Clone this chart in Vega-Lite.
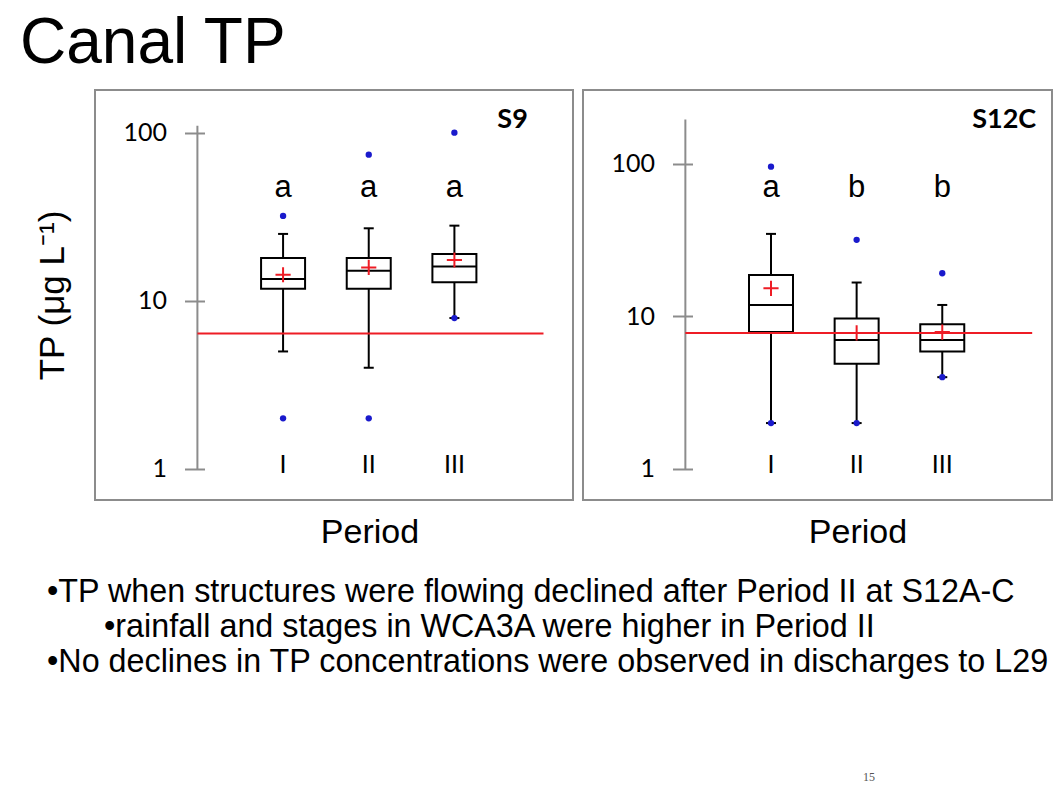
{
  "$schema": "https://vega.github.io/schema/vega-lite/v6.json",
  "background": "white",
  "padding": {"left": 19, "top": 12, "right": 0, "bottom": 0},
  "title": {"text": "Canal TP", "anchor": "start", "frame": "bounds", "fontSize": 64, "fontWeight": "normal", "font": "Liberation Sans", "color": "black", "baseline": "alphabetic", "offset": -38, "dx": -15},
  "datasets": {
    "boxes": [
      {"station": "S9", "idx": 1, "period": "I", "lo": 5.0, "q1": 11.8, "med": 13.5, "q3": 18, "hi": 25, "mean": 14.3, "grp": "a"},
      {"station": "S9", "idx": 2, "period": "II", "lo": 4.0, "q1": 11.8, "med": 15.1, "q3": 18, "hi": 27, "mean": 15.8, "grp": "a"},
      {"station": "S9", "idx": 3, "period": "III", "lo": 7.9, "q1": 12.9, "med": 16, "q3": 19, "hi": 28, "mean": 17.5, "grp": "a"},
      {"station": "S12C", "idx": 1, "period": "I", "lo": 2.0, "q1": 7.9, "med": 11.9, "q3": 18.7, "hi": 34.8, "mean": 15.3, "grp": "a"},
      {"station": "S12C", "idx": 2, "period": "II", "lo": 2.0, "q1": 4.9, "med": 7.0, "q3": 9.7, "hi": 16.7, "mean": 7.8, "grp": "b"},
      {"station": "S12C", "idx": 3, "period": "III", "lo": 4.0, "q1": 5.9, "med": 7.0, "q3": 8.9, "hi": 11.9, "mean": 7.9, "grp": "b"}
    ],
    "outliers": [
      {"station": "S9", "idx": 1, "tp": 32}, {"station": "S9", "idx": 1, "tp": 2.0},
      {"station": "S9", "idx": 2, "tp": 74}, {"station": "S9", "idx": 2, "tp": 2.0},
      {"station": "S9", "idx": 3, "tp": 100}, {"station": "S9", "idx": 3, "tp": 7.9},
      {"station": "S12C", "idx": 1, "tp": 96}, {"station": "S12C", "idx": 1, "tp": 2.0},
      {"station": "S12C", "idx": 2, "tp": 31.8}, {"station": "S12C", "idx": 2, "tp": 2.0},
      {"station": "S12C", "idx": 3, "tp": 19.2}, {"station": "S12C", "idx": 3, "tp": 4.0}
    ],
    "limits": [{"station": "S9", "tp": 6.4}, {"station": "S12C", "tp": 7.8}],
    "notes": [
      {"line": 1, "level": 0, "text": "•TP when structures were flowing declined after Period II at S12A-C"},
      {"line": 2, "level": 1, "text": "•rainfall and stages in WCA3A  were higher in Period II"},
      {"line": 3, "level": 0, "text": "•No declines in TP concentrations were observed in discharges to L29"}
    ]
  },
  "config": {
    "view": {"stroke": "#8c8c8c", "strokeWidth": 2},
    "axis": {"grid": false, "domainColor": "#8c8c8c", "tickColor": "#8c8c8c", "tickWidth": 2, "labelColor": "black", "titleColor": "black"}
  },
  "vconcat": [
    {
      "hconcat": [
        {
          "width": 478, "height": 410,
          "layer": [
            {
              "data": {"values": [{}]},
              "mark": {"type": "rule", "color": "#8c8c8c", "strokeWidth": 2},
              "encoding": {"x": {"datum": 0}, "y": {"datum": 1}, "y2": {"datum": 110}}
            },
            {
              "data": {"name": "boxes"},
              "transform": [{"filter": {"field": "station", "equal": "S9"}}],
              "mark": {"type": "rule", "color": "black", "strokeWidth": 2},
              "encoding": {
                "x": {"field": "idx", "type": "quantitative", "scale": {"domain": [-1.137, 4.326], "nice": false, "zero": false},
                  "axis": {"title": "Period", "labels": false, "ticks": false, "domain": false, "titleX": 274.5, "titlePadding": 15, "titleFontSize": 34, "titleFont": "Liberation Sans", "titleFontWeight": "normal"}},
                "y": {"field": "lo", "type": "quantitative", "scale": {"type": "log", "domain": [0.654, 179.4], "nice": false},
                  "axis": {"title": "TP (μg L⁻¹)", "values": [1, 10, 100], "format": "d", "offset": -109.5, "domain": false, "tickSize": 20, "labelPadding": 18, "labelFont": "Lato", "labelFontSize": 25, "titleFont": "Liberation Sans", "titleFontSize": 35, "titleFontWeight": "normal", "titlePadding": 52}},
                "y2": {"field": "hi"}
              }
            },
            {
              "data": {"name": "boxes"},
              "transform": [{"filter": {"field": "station", "equal": "S9"}}],
              "mark": {"type": "tick", "orient": "horizontal", "size": 10, "thickness": 2, "color": "black", "opacity": 1},
              "encoding": {"x": {"field": "idx", "type": "quantitative"}, "y": {"field": "lo", "type": "quantitative"}}
            },
            {
              "data": {"name": "boxes"},
              "transform": [{"filter": {"field": "station", "equal": "S9"}}],
              "mark": {"type": "tick", "orient": "horizontal", "size": 10, "thickness": 2, "color": "black", "opacity": 1},
              "encoding": {"x": {"field": "idx", "type": "quantitative"}, "y": {"field": "hi", "type": "quantitative"}}
            },
            {
              "data": {"name": "boxes"},
              "transform": [{"filter": {"field": "station", "equal": "S9"}}],
              "mark": {"type": "bar", "size": 44, "fill": "white", "stroke": "black", "strokeWidth": 2},
              "encoding": {"x": {"field": "idx", "type": "quantitative"}, "y": {"field": "q1", "type": "quantitative"}, "y2": {"field": "q3"}}
            },
            {
              "data": {"name": "boxes"},
              "transform": [{"filter": {"field": "station", "equal": "S9"}}],
              "mark": {"type": "tick", "orient": "horizontal", "size": 44, "thickness": 2, "color": "black", "opacity": 1},
              "encoding": {"x": {"field": "idx", "type": "quantitative"}, "y": {"field": "med", "type": "quantitative"}}
            },
            {
              "data": {"name": "limits"},
              "transform": [{"filter": {"field": "station", "equal": "S9"}}],
              "mark": {"type": "rule", "color": "#ee1c25", "strokeWidth": 2},
              "encoding": {"x": {"datum": 0}, "x2": {"datum": 4.04}, "y": {"field": "tp", "type": "quantitative"}}
            },
            {
              "data": {"name": "outliers"},
              "transform": [{"filter": {"field": "station", "equal": "S9"}}],
              "mark": {"type": "point", "shape": "circle", "filled": true, "color": "#1a1acc", "size": 40, "opacity": 1},
              "encoding": {"x": {"field": "idx", "type": "quantitative"}, "y": {"field": "tp", "type": "quantitative"}}
            },
            {
              "data": {"name": "boxes"},
              "transform": [{"filter": {"field": "station", "equal": "S9"}}],
              "mark": {"type": "point", "shape": "M-1,0H1M0,-1V1", "filled": false, "stroke": "#ee1c25", "strokeWidth": 2, "size": 230, "opacity": 1},
              "encoding": {"x": {"field": "idx", "type": "quantitative"}, "y": {"field": "mean", "type": "quantitative"}}
            },
            {
              "data": {"name": "boxes"},
              "transform": [{"filter": {"field": "station", "equal": "S9"}}],
              "mark": {"type": "text", "font": "Liberation Sans", "fontSize": 31, "color": "black", "baseline": "middle"},
              "encoding": {"x": {"field": "idx", "type": "quantitative"}, "y": {"datum": 47}, "text": {"field": "grp"}}
            },
            {
              "data": {"name": "boxes"},
              "transform": [{"filter": {"field": "station", "equal": "S9"}}],
              "mark": {"type": "text", "font": "Lato", "fontSize": 25, "color": "black", "baseline": "alphabetic", "dy": 4},
              "encoding": {"x": {"field": "idx", "type": "quantitative"}, "y": {"datum": 1}, "text": {"field": "period"}}
            },
            {
              "data": {"name": "limits"},
              "transform": [{"filter": {"field": "station", "equal": "S9"}}],
              "mark": {"type": "text", "font": "Lato", "fontSize": 27, "fontWeight": "bold", "color": "black", "align": "right", "baseline": "alphabetic"},
              "encoding": {"x": {"datum": 3.857}, "y": {"datum": 106.7}, "text": {"field": "station"}}
            }
          ]
        },
        {
          "width": 469, "height": 410,
          "layer": [
            {
              "data": {"values": [{}]},
              "mark": {"type": "rule", "color": "#8c8c8c", "strokeWidth": 2},
              "encoding": {"x": {"datum": 0}, "y": {"datum": 1}, "y2": {"datum": 196}}
            },
            {
              "data": {"name": "boxes"},
              "transform": [{"filter": {"field": "station", "equal": "S12C"}}],
              "mark": {"type": "rule", "color": "black", "strokeWidth": 2},
              "encoding": {
                "x": {"field": "idx", "type": "quantitative", "scale": {"domain": [-1.137, 4.223], "nice": false, "zero": false},
                  "axis": {"title": "Period", "labels": false, "ticks": false, "domain": false, "titleX": 274.5, "titlePadding": 15, "titleFontSize": 34, "titleFont": "Liberation Sans", "titleFontWeight": "normal"}},
                "y": {"field": "lo", "type": "quantitative", "scale": {"type": "log", "domain": [0.626, 305.6], "nice": false},
                  "axis": {"title": "", "values": [1, 10, 100], "format": "d", "offset": -109.5, "domain": false, "tickSize": 20, "labelPadding": 18, "labelFont": "Lato", "labelFontSize": 25}},
                "y2": {"field": "hi"}
              }
            },
            {
              "data": {"name": "boxes"},
              "transform": [{"filter": {"field": "station", "equal": "S12C"}}],
              "mark": {"type": "tick", "orient": "horizontal", "size": 10, "thickness": 2, "color": "black", "opacity": 1},
              "encoding": {"x": {"field": "idx", "type": "quantitative"}, "y": {"field": "lo", "type": "quantitative"}}
            },
            {
              "data": {"name": "boxes"},
              "transform": [{"filter": {"field": "station", "equal": "S12C"}}],
              "mark": {"type": "tick", "orient": "horizontal", "size": 10, "thickness": 2, "color": "black", "opacity": 1},
              "encoding": {"x": {"field": "idx", "type": "quantitative"}, "y": {"field": "hi", "type": "quantitative"}}
            },
            {
              "data": {"name": "boxes"},
              "transform": [{"filter": {"field": "station", "equal": "S12C"}}],
              "mark": {"type": "bar", "size": 44, "fill": "white", "stroke": "black", "strokeWidth": 2},
              "encoding": {"x": {"field": "idx", "type": "quantitative"}, "y": {"field": "q1", "type": "quantitative"}, "y2": {"field": "q3"}}
            },
            {
              "data": {"name": "boxes"},
              "transform": [{"filter": {"field": "station", "equal": "S12C"}}],
              "mark": {"type": "tick", "orient": "horizontal", "size": 44, "thickness": 2, "color": "black", "opacity": 1},
              "encoding": {"x": {"field": "idx", "type": "quantitative"}, "y": {"field": "med", "type": "quantitative"}}
            },
            {
              "data": {"name": "limits"},
              "transform": [{"filter": {"field": "station", "equal": "S12C"}}],
              "mark": {"type": "rule", "color": "#ee1c25", "strokeWidth": 2},
              "encoding": {"x": {"datum": 0}, "x2": {"datum": 4.05}, "y": {"field": "tp", "type": "quantitative"}}
            },
            {
              "data": {"name": "outliers"},
              "transform": [{"filter": {"field": "station", "equal": "S12C"}}],
              "mark": {"type": "point", "shape": "circle", "filled": true, "color": "#1a1acc", "size": 40, "opacity": 1},
              "encoding": {"x": {"field": "idx", "type": "quantitative"}, "y": {"field": "tp", "type": "quantitative"}}
            },
            {
              "data": {"name": "boxes"},
              "transform": [{"filter": {"field": "station", "equal": "S12C"}}],
              "mark": {"type": "point", "shape": "M-1,0H1M0,-1V1", "filled": false, "stroke": "#ee1c25", "strokeWidth": 2, "size": 230, "opacity": 1},
              "encoding": {"x": {"field": "idx", "type": "quantitative"}, "y": {"field": "mean", "type": "quantitative"}}
            },
            {
              "data": {"name": "boxes"},
              "transform": [{"filter": {"field": "station", "equal": "S12C"}}],
              "mark": {"type": "text", "font": "Liberation Sans", "fontSize": 31, "color": "black", "baseline": "middle"},
              "encoding": {"x": {"field": "idx", "type": "quantitative"}, "y": {"datum": 69.6}, "text": {"field": "grp"}}
            },
            {
              "data": {"name": "boxes"},
              "transform": [{"filter": {"field": "station", "equal": "S12C"}}],
              "mark": {"type": "text", "font": "Lato", "fontSize": 25, "color": "black", "baseline": "alphabetic", "dy": 4},
              "encoding": {"x": {"field": "idx", "type": "quantitative"}, "y": {"datum": 1}, "text": {"field": "period"}}
            },
            {
              "data": {"name": "limits"},
              "transform": [{"filter": {"field": "station", "equal": "S12C"}}],
              "mark": {"type": "text", "font": "Lato", "fontSize": 27, "fontWeight": "bold", "color": "black", "align": "right", "baseline": "alphabetic"},
              "encoding": {"x": {"datum": 4.097}, "y": {"datum": 172.2}, "text": {"field": "station"}}
            }
          ]
        }
      ],
      "spacing": 8
    },
    {
      "width": 900, "height": 217,
      "view": {"stroke": null},
      "layer": [
        {
          "data": {"name": "notes"},
          "mark": {"type": "text", "align": "left", "baseline": "middle", "font": "Liberation Sans", "fontSize": 32.3, "color": "black"},
          "encoding": {
            "x": {"field": "level", "type": "quantitative", "scale": {"domain": [0.842, 16.632], "nice": false, "zero": false}, "axis": null},
            "y": {"field": "line", "type": "quantitative", "scale": {"domain": [0.5, 6.7], "reverse": true, "nice": false, "zero": false}, "axis": null},
            "text": {"field": "text"}
          }
        },
        {
          "data": {"values": [{"page": "15"}]},
          "mark": {"type": "text", "font": "Liberation Serif", "fontSize": 12, "color": "#555555"},
          "encoding": {"x": {"datum": 14.42}, "y": {"datum": 6.31}, "text": {"field": "page"}}
        }
      ]
    }
  ],
  "spacing": 24
}
